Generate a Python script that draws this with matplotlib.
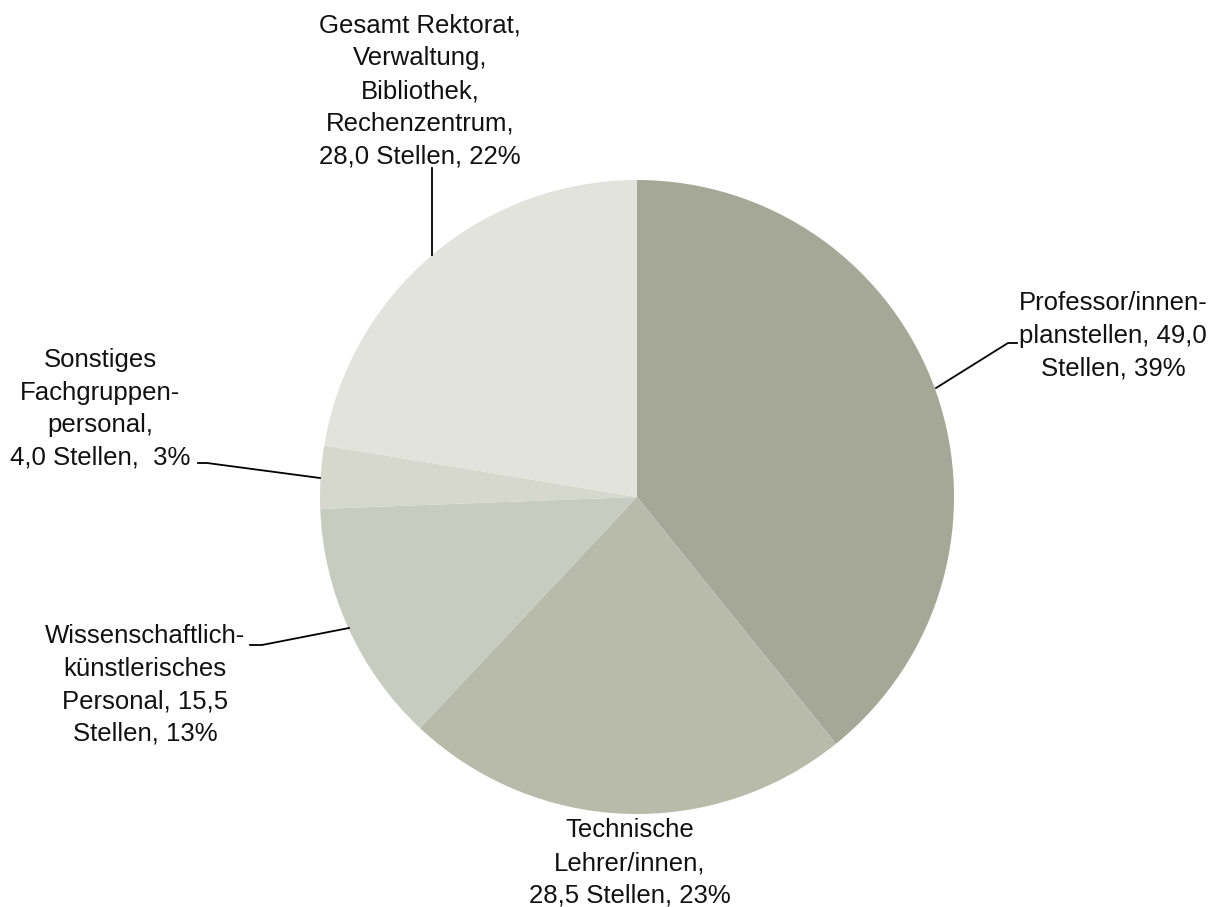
import matplotlib
matplotlib.use("Agg")
import matplotlib.pyplot as plt

categories = ["Professor/innen-\nplanstellen", "Technische\nLehrer/innen", "Wissenschaftlich-\nkünstlerisches\nPersonal", "Sonstiges\nFachgruppen-\npersonal", "Gesamt Rektorat,\nVerwaltung,\nBibliothek,\nRechenzentrum"]
values = [49.0, 28.5, 15.5, 4.0, 28.0]
labels = [
    "Professor/innen-\nplanstellen, 49,0\nStellen, 39%",
    "Technische\nLehrer/innen,\n28,5 Stellen, 23%",
    "Wissenschaftlich-\nkünstlerisches\nPersonal, 15,5\nStellen, 13%",
    "Sonstiges\nFachgruppen-\npersonal,\n4,0 Stellen,  3%",
    "Gesamt Rektorat,\nVerwaltung,\nBibliothek,\nRechenzentrum,\n28,0 Stellen, 22%",
]
colors = ["#A5A896", "#B8BBAA", "#C8CBC0", "#D6D7CD", "#E3E3DE"]

W, H = 1217, 907
fig = plt.figure(figsize=(W / 100, H / 100), dpi=100)
cx, cy, R = 637, 497, 317
ax = fig.add_axes([(cx - R) / W, (H - cy - R) / H, 2 * R / W, 2 * R / H])
ax.pie(values, colors=colors, startangle=90, counterclock=False, radius=1,
       wedgeprops=dict(linewidth=0))
ax.set_xlim(-1, 1)
ax.set_ylim(-1, 1)
ax.set_aspect("equal")
ax.axis("off")

def d(px, py):
    return ((px - cx) / R, (cy - py) / R)

font = dict(family=["Liberation Sans", "DejaVu Sans"], fontsize=18.5, color="#111111")
label_pos = [(1113, 336), (630, 863), (145, 685), (100, 409), (420, 91)]
for lab, (px, py) in zip(labels, label_pos):
    x, y = d(px, py)
    ax.text(x, y, lab, ha="center", va="center", linespacing=1.45, clip_on=False, **font)

leaders = [
    [(936, 388), (1008, 343), (1017, 343)],
    [(349, 628), (262, 645), (250, 645)],
    [(320, 478), (207, 463), (198, 463)],
    [(432, 255), (432, 168)],
]
for pts in leaders:
    xs, ys = zip(*[d(px, py) for px, py in pts])
    ax.plot(xs, ys, color="black", linewidth=1.3, clip_on=False)

fig.savefig("out.png", dpi=100, facecolor="white")
